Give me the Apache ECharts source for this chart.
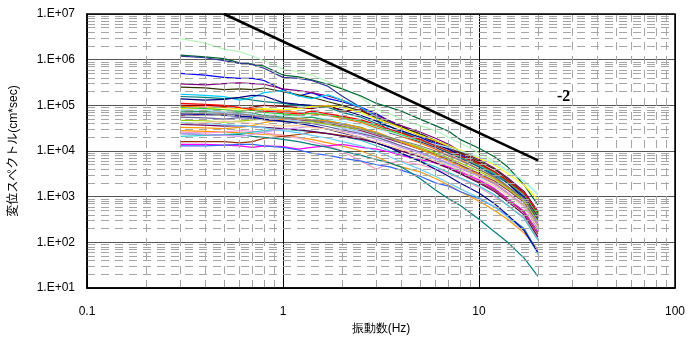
<!DOCTYPE html>
<html><head><meta charset="utf-8">
<script src="https://cdn.jsdelivr.net/npm/echarts@6/dist/echarts.min.js"></script>
<style>html,body{margin:0;padding:0;background:#fff}#c{width:688px;height:340px}</style>
</head><body><div id="c"></div>
<script>
// frequencies (Hz)
var freqs = [0.3,0.4,0.5,0.6,0.7,0.8,1,1.2,1.4,1.7,2,2.5,3,3.5,4,5,6,7,8,10,12,14,17,20];
var colors = ['#b8f5b8','#006633','#333399','#0000ff','#800080','#333300','#00ccff','#008080','#000080','#800000','#ff6600','#ffff00','#a8f0ff','#339966','#993366','#99ccff','#99cc00','#ff9900','#ff9900','#ff99cc','#33cccc','#993300','#ff00ff','#3366ff','#008080','#666699','#660066','#cc99ff','#66ccff','#000099','#33cc33','#ff0000','#808080','#ffcc99'];
var s01 = [2.9e6,2.3e6,1.7e6,1.5e6,1.2e6,9.5e5,6.2e5,5.5e5,4.6e5,3.3e5,2.4e5,1.5e5,8.0e4,6.5e4,5.0e4,3.6e4,2.8e4,2.0e4,1.5e4,9.0e3,6.0e3,3.8e3,2.2e3,1.1e3];
var s02 = [1.26e6,1.15e6,1.05e6,8.5e5,8.0e5,7.2e5,4.6e5,4.2e5,3.6e5,2.9e5,2.3e5,1.6e5,1.1e5,9.0e4,7.5e4,5.0e4,3.6e4,2.7e4,1.8e4,1.15e4,7.5e3,4.5e3,1.8e3,6.5e2];
var s03 = [1.2e6,1.1e6,9.5e5,8.3e5,7.8e5,6.5e5,4.1e5,3.9e5,3.5e5,2.6e5,1.6e5,9.0e4,5.0e4,2.5e4,2.1e4,1.6e4,1.2e4,9.0e3,7.0e3,4.5e3,3.0e3,2.0e3,9.0e2,3.5e2];
var s04 = [5.0e5,4.6e5,4.1e5,3.9e5,3.9e5,3.5e5,2.2e5,1.6e5,1.9e5,1.4e5,1.2e5,9.0e4,6.5e4,4.5e4,3.5e4,2.2e4,1.5e4,1.1e4,8.5e3,5.0e3,3.2e3,2.0e3,1.0e3,3.8e2];
var s05 = [2.95e5,2.8e5,3.0e5,3.1e5,3.0e5,2.9e5,2.3e5,2.1e5,1.9e5,1.6e5,1.3e5,8.5e4,6.0e4,4.6e4,3.6e4,2.6e4,1.9e4,1.4e4,1.0e4,6.5e3,4.2e3,2.6e3,1.3e3,4.8e2];
var s06 = [2.5e5,2.4e5,2.2e5,2.3e5,2.2e5,2.4e5,2.0e5,1.7e5,1.5e5,1.2e5,1.0e5,7.5e4,5.5e4,4.2e4,3.4e4,2.4e4,1.7e4,1.3e4,9.5e3,6.0e3,4.0e3,2.4e3,1.2e3,4.2e2];
var s07 = [1.75e5,1.65e5,1.55e5,1.3e5,1.5e5,1.9e5,2.1e5,1.6e5,1.4e5,1.7e5,1.3e5,9.0e4,5.5e4,3.0e4,2.6e4,2.0e4,1.4e4,1.1e4,8.0e3,5.0e3,3.2e3,2.0e3,9.0e2,3.0e2];
var s08 = [1.56e5,1.5e5,1.4e5,1.45e5,1.3e5,1.2e5,1.1e5,1.0e5,9.5e4,9.0e4,7.0e4,5.5e4,4.0e4,3.5e4,2.6e4,1.8e4,1.3e4,9.5e3,7.5e3,4.5e3,2.8e3,1.7e3,8.0e2,2.8e2];
var s09 = [1.38e5,1.3e5,1.35e5,1.5e5,1.65e5,1.6e5,1.15e5,1.05e5,1.0e5,9.5e4,8.0e4,6.0e4,4.5e4,3.4e4,2.8e4,2.0e4,1.4e4,1.1e4,8.0e3,5.0e3,3.5e3,2.0e3,9.0e2,3.2e2];
var s10 = [1.0e5,1.0e5,9.5e4,8.5e4,9.2e4,1.0e5,9.5e4,9.0e4,8.5e4,1.0e5,7.5e4,8.0e4,5.0e4,4.0e4,3.2e4,2.2e4,1.6e4,1.2e4,9.0e3,5.5e3,3.5e3,2.2e3,1.1e3,3.6e2];
var s11 = [9.5e4,9.2e4,9.0e4,8.8e4,8.5e4,8.0e4,7.5e4,7.0e4,6.5e4,6.0e4,5.2e4,4.2e4,3.2e4,2.6e4,2.1e4,1.5e4,1.1e4,8.0e3,6.5e3,4.0e3,2.6e3,1.6e3,8.0e2,2.5e2];
var s12 = [8.5e4,8.8e4,8.2e4,8.5e4,8.0e4,8.5e4,8.0e4,8.5e4,9.5e4,9.8e4,9.0e4,7.0e4,5.0e4,4.0e4,3.2e4,2.2e4,1.7e4,1.3e4,1.05e4,7.0e3,5.0e3,3.2e3,1.8e3,8.5e2];
var s13 = [7.0e4,6.8e4,6.5e4,6.6e4,6.3e4,6.2e4,6.0e4,5.8e4,5.5e4,5.0e4,4.5e4,3.8e4,3.0e4,2.6e4,2.2e4,1.7e4,1.4e4,1.2e4,1.0e4,7.5e3,5.5e3,3.6e3,2.2e3,1.15e3];
var s14 = [7.5e4,7.3e4,7.0e4,7.2e4,6.8e4,6.0e4,5.5e4,5.2e4,5.5e4,4.6e4,4.0e4,3.3e4,2.4e4,1.9e4,1.6e4,1.1e4,8.0e3,6.2e3,4.8e3,3.0e3,2.0e3,1.2e3,6.0e2,2.0e2];
var s15 = [6.0e4,6.2e4,6.5e4,6.0e4,5.8e4,5.5e4,5.0e4,4.8e4,4.5e4,4.0e4,3.5e4,2.8e4,2.2e4,1.8e4,1.5e4,1.1e4,8.5e3,6.5e3,5.0e3,3.2e3,2.2e3,1.4e3,7.5e2,2.6e2];
var s16 = [8.0e4,7.8e4,7.0e4,6.5e4,6.0e4,5.5e4,5.0e4,4.5e4,4.0e4,3.8e4,3.2e4,2.6e4,2.0e4,1.6e4,1.3e4,9.0e3,6.5e3,5.0e3,3.8e3,2.4e3,1.5e3,9.0e2,4.5e2,1.6e2];
var s17 = [4.7e4,4.6e4,4.3e4,4.5e4,4.8e4,5.0e4,4.6e4,4.2e4,4.4e4,3.8e4,3.4e4,3.0e4,2.5e4,2.0e4,1.6e4,1.2e4,9.0e3,7.0e3,5.5e3,3.6e3,2.4e3,1.5e3,8.0e2,2.8e2];
var s18 = [3.3e4,3.2e4,3.1e4,3.3e4,3.6e4,4.2e4,5.0e4,5.2e4,4.8e4,4.5e4,4.0e4,3.2e4,2.6e4,2.0e4,1.6e4,1.1e4,8.0e3,6.0e3,4.6e3,3.0e3,2.0e3,1.2e3,6.5e2,2.2e2];
var s19 = [2.8e4,2.7e4,2.6e4,2.5e4,2.4e4,2.3e4,2.2e4,2.0e4,1.8e4,1.5e4,1.3e4,1.0e4,7.5e3,5.5e3,4.5e3,3.5e3,2.5e3,1.8e3,1.3e3,8.0e2,5.0e2,3.2e2,1.6e2,7.0e1];
var s20 = [2.6e4,2.5e4,2.6e4,2.8e4,2.7e4,2.5e4,2.2e4,1.9e4,1.6e4,1.3e4,1.0e4,6.0e3,4.0e3,5.5e3,6.0e3,5.0e3,4.0e3,3.2e3,2.5e3,1.6e3,1.0e3,6.5e2,3.5e2,1.2e2];
var s21 = [2.1e4,2.2e4,2.3e4,2.4e4,2.6e4,2.8e4,3.0e4,2.8e4,2.7e4,2.4e4,2.1e4,1.7e4,1.3e4,1.0e4,8.5e3,6.0e3,4.5e3,3.4e3,2.6e3,1.7e3,1.1e3,6.5e2,3.3e2,1.1e2];
var s22 = [1.6e4,1.6e4,1.6e4,1.5e4,1.6e4,1.9e4,2.1e4,2.3e4,2.6e4,2.4e4,2.2e4,1.9e4,1.5e4,1.2e4,1.0e4,7.5e3,5.5e3,4.2e3,3.3e3,2.1e3,1.4e3,8.5e2,4.5e2,1.5e2];
var s23 = [1.4e4,1.4e4,1.35e4,1.3e4,1.2e4,1.3e4,1.25e4,1.1e4,1.2e4,1.3e4,1.4e4,1.2e4,1.1e4,9.5e3,8.0e3,6.5e3,5.5e3,4.5e3,3.5e3,2.3e3,1.5e3,9.0e2,4.8e2,1.7e2];
var s24 = [1.3e4,1.3e4,1.35e4,1.4e4,1.4e4,1.3e4,1.2e4,1.05e4,9.0e3,8.0e3,7.0e3,6.0e3,5.0e3,4.5e3,3.8e3,2.8e3,2.0e3,1.7e3,1.3e3,9.0e2,6.0e2,3.8e2,2.0e2,6.0e1];
var s25 = [2.4e4,2.3e4,2.2e4,2.3e4,2.1e4,2.0e4,1.8e4,1.6e4,1.4e4,1.2e4,1.0e4,8.0e3,6.5e3,5.5e3,4.5e3,2.5e3,1.4e3,9.0e2,6.5e2,3.2e2,1.7e2,1.0e2,4.5e1,1.8e1];
var s26 = [5.5e4,5.3e4,5.0e4,5.4e4,5.2e4,4.8e4,4.4e4,4.2e4,4.0e4,3.4e4,2.9e4,2.4e4,2.0e4,1.6e4,1.3e4,9.5e3,7.0e3,5.4e3,4.2e3,2.8e3,1.9e3,1.2e3,6.5e2,2.4e2];
var s27 = [3.8e4,3.7e4,3.5e4,3.6e4,3.4e4,3.3e4,3.1e4,2.9e4,2.7e4,2.4e4,2.1e4,1.8e4,1.5e4,1.2e4,1.0e4,7.5e3,5.5e3,4.2e3,3.2e3,2.0e3,1.3e3,7.8e2,4.0e2,1.3e2];
var s28 = [2.4e4,2.3e4,2.2e4,2.1e4,2.3e4,2.6e4,3.0e4,3.2e4,3.5e4,3.0e4,2.7e4,2.3e4,1.8e4,1.5e4,1.2e4,9.0e3,7.0e3,5.5e3,4.2e3,2.8e3,1.9e3,1.2e3,6.5e2,2.5e2];
var s29 = [4.2e4,4.0e4,3.8e4,3.6e4,3.4e4,3.2e4,2.8e4,2.5e4,2.2e4,1.9e4,1.6e4,1.3e4,1.0e4,7.5e3,5.8e3,4.0e3,2.8e3,2.0e3,1.5e3,9.5e2,6.0e2,3.6e2,1.8e2,5.5e1];
var s30 = [6.5e4,6.3e4,6.0e4,5.8e4,5.5e4,5.0e4,4.5e4,4.0e4,3.6e4,3.0e4,2.5e4,2.0e4,1.5e4,1.2e4,9.0e3,6.0e3,4.0e3,2.8e3,2.0e3,1.2e3,7.0e2,4.0e2,1.8e2,6.0e1];
var s31 = [9.0e4,8.5e4,8.0e4,7.5e4,7.8e4,7.0e4,6.5e4,6.0e4,6.8e4,6.0e4,5.5e4,4.5e4,3.5e4,2.8e4,2.3e4,1.7e4,1.3e4,9.5e3,7.5e3,5.0e3,3.3e3,2.1e3,1.1e3,4.0e2];
var s32 = [1.1e5,1.05e5,1.0e5,9.0e4,8.0e4,7.5e4,7.0e4,6.5e4,7.5e4,6.5e4,5.8e4,4.8e4,3.8e4,3.0e4,2.5e4,1.8e4,1.3e4,1.0e4,7.8e3,5.2e3,3.5e3,2.2e3,1.2e3,4.5e2];
var s33 = [6.8e4,6.6e4,6.2e4,6.5e4,6.0e4,5.6e4,5.3e4,5.0e4,4.7e4,4.3e4,3.8e4,3.0e4,2.4e4,2.0e4,1.7e4,1.3e4,1.0e4,7.8e3,6.2e3,4.0e3,2.7e3,1.7e3,9.0e2,3.4e2];
var s34 = [4.0e4,4.2e4,4.5e4,4.3e4,4.0e4,3.8e4,3.5e4,3.6e4,3.3e4,3.0e4,2.6e4,2.0e4,1.6e4,1.3e4,1.1e4,8.0e3,6.0e3,4.8e3,3.8e3,2.5e3,1.7e3,1.1e3,6.0e2,2.1e2];
var allSeries = [s01,s02,s03,s04,s05,s06,s07,s08,s09,s10,s11,s12,s13,s14,s15,s16,s17,s18,s19,s20,s21,s22,s23,s24,s25,s26,s27,s28,s29,s30,s31,s32,s33,s34];
// slope -2 reference line
var slopeX = [0.5, 20];
var slopeY = [1.0e7, 6.25e3];
var slopeLabel = '-2';
var yTicks = [1e1,1e2,1e3,1e4,1e5,1e6,1e7];
var xTicks = [0.1,1,10,100];

var chart = echarts.init(document.getElementById('c'), null, {renderer:'canvas'});
var series = [];
allSeries.forEach(function(vals, i){
  series.push({type:'line', symbol:'none', silent:true, z:3,
    lineStyle:{width:1.2, color:colors[i]},
    data: freqs.map(function(f, j){ return [f, vals[j]]; })});
});
// minor grid lines (2..9 within each decade)
var hMinor = [], vMinor = [];
for (var d = 1; d < 7; d++) for (var k = 2; k <= 9; k++) hMinor.push({yAxis: k * Math.pow(10, d)});
for (var e = -1; e < 2; e++) for (var m = 2; m <= 9; m++) vMinor.push({xAxis: +(m * Math.pow(10, e)).toPrecision(3)});
series.unshift({type:'line', data:[], z:1, silent:true,
  markLine:{silent:true, symbol:'none', label:{show:false}, animation:false,
    lineStyle:{color:'#a6a6a6', width:1, type:[8,6]},
    data: hMinor.concat(vMinor)}});
series.push({type:'line', symbol:'none', silent:true, z:5,
  lineStyle:{width:2.5, color:'#000'},
  data: slopeX.map(function(x, i){ return [x, slopeY[i]]; })});

chart.setOption({
  animation:false,
  backgroundColor:'#fff',
  grid:{left:85, right:11, top:14, bottom:48, show:true, borderColor:'#000', borderWidth:1.5, backgroundColor:'transparent', z:10},
  xAxis:{type:'log', logBase:10, min:0.1, max:100,
    name:'振動数(Hz)', nameLocation:'middle', nameGap:35,
    nameTextStyle:{color:'#000', fontSize:12, fontFamily:'Liberation Sans, Arial, sans-serif'},
    axisLine:{show:true, lineStyle:{color:'#000', width:1.5}},
    axisTick:{show:false},
    axisLabel:{color:'#000', fontSize:12, margin:18, fontFamily:'Liberation Sans, Arial, sans-serif',
      formatter:function(v){ return String(+v.toPrecision(3)); }},
    splitLine:{show:true, lineStyle:{color:'#000', width:1}}
  },
  yAxis:{type:'log', logBase:10, min:10, max:1e7,
    name:'変位スペクトル(cm*sec)', nameLocation:'middle', nameGap:67,
    nameTextStyle:{color:'#000', fontSize:12, fontFamily:'Liberation Sans, Noto Sans CJK JP, sans-serif'},
    axisLine:{show:true, lineStyle:{color:'#000', width:1.5}},
    axisTick:{show:false},
    axisLabel:{color:'#000', fontSize:12, margin:12, fontFamily:'Liberation Sans, Arial, sans-serif',
      formatter:function(v){ var p = Math.round(Math.log10(v)); return '1.E+' + (p < 10 ? '0' : '') + p; }},
    splitLine:{show:true, lineStyle:{color:'#555', width:1.2}}
  },
  graphic:[{type:'text', left:557, top:89, z:20,
    style:{text:slopeLabel, font:'bold 16px "Liberation Serif", "Times New Roman", serif', fill:'#000'}}],
  series: series
});
</script></body></html>
